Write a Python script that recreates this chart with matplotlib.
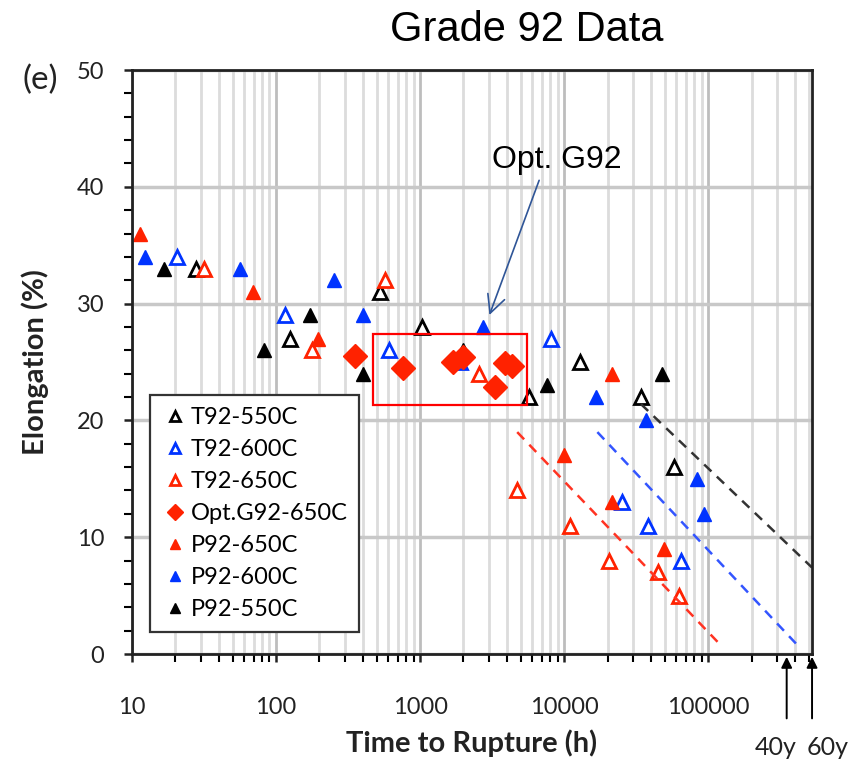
import matplotlib
matplotlib.use('Agg')
import matplotlib.pyplot as plt
import numpy as np
from matplotlib.ticker import LogLocator, FixedLocator, MultipleLocator, NullFormatter

# data: (time to rupture h, elongation %)
t92_550_t = [28, 124, 523, 1030, 5700, 12800, 34100, 57400]
t92_550_e = [33, 27, 31, 28, 22, 25, 22, 16]
t92_600_t = [20.4, 116, 612, 1880, 8070, 25200, 38100, 64300]
t92_600_e = [34, 29, 26, 25, 27, 13, 11, 8]
t92_650_t = [31.8, 178, 566, 2580, 4720, 10900, 20600, 44600, 63000]
t92_650_e = [33, 26, 32, 24, 14, 11, 8, 7, 5]
opt_t = [352, 764, 1690, 2000, 3330, 3900, 4360]
opt_e = [25.5, 24.5, 25.0, 25.4, 22.9, 24.9, 24.7]
p92_650_t = [11.3, 69, 196, 9930, 21500, 21500, 49000]
p92_650_e = [36, 31, 27, 17, 24, 13, 9]
p92_600_t = [12.3, 56, 252, 399, 2710, 16700, 36900, 84000, 94000]
p92_600_e = [34, 33, 32, 29, 28, 22, 20, 15, 12]
p92_550_t = [16.6, 83, 172, 400, 2000, 7590, 47500]
p92_550_e = [33, 26, 29, 24, 26, 23, 24]

# trend lines (dashed)
trend_black = ([34100, 525600], [21.4, 7.4])
trend_blue = ([17000, 428000], [19.0, 0.6])
trend_red = ([4720, 119000], [19.0, 0.9])

# highlighted box
box_t = [468, 5520]
box_e = [21.3, 27.4]

life_t = [350400, 525600]
life_lab = ['40y', '60y']

RED = '#ff2200'
BLUE = '#0033ff'

plt.rcParams['font.family'] = ['Lato', 'DejaVu Sans']

fig = plt.figure(figsize=(8.48, 7.61), dpi=100)
ax = fig.add_axes([0.1557, 0.1406, 0.8019, 0.7674])

ax.set_xscale('log')
ax.set_xlim(10, 525600)
ax.set_ylim(0, 50)

ax.xaxis.set_major_locator(FixedLocator([10, 100, 1000, 10000, 100000]))
ax.xaxis.set_minor_locator(LogLocator(base=10, subs=np.arange(2, 10), numticks=20))
ax.xaxis.set_minor_formatter(NullFormatter())
ax.set_xticklabels(['10', '100', '1000', '10000', '100000'])
ax.yaxis.set_major_locator(MultipleLocator(10))
ax.yaxis.set_minor_locator(MultipleLocator(2))

ax.grid(which='minor', axis='x', color='#dcdcdc', lw=2.0, zorder=0)
ax.grid(which='major', axis='x', color='#bdbdbd', lw=2.0, zorder=0)
ax.grid(which='major', axis='y', color='#c8c8c8', lw=2.5, zorder=0)
ax.set_axisbelow(True)

ax.tick_params(which='major', direction='out', length=6, width=1.8, labelsize=17, colors='#222222')
ax.tick_params(which='minor', direction='out', length=6, width=1.5)
ax.tick_params(axis='x', which='major', pad=25)
ax.tick_params(axis='y', which='major', pad=14)
for s in ax.spines.values():
    s.set_linewidth(2.0)
    s.set_color('#222222')

ms = 10
ax.plot(t92_550_t, t92_550_e, '^', ls='none', mfc='white', mec='black', mew=2, ms=ms, label='T92-550C')
ax.plot(t92_600_t, t92_600_e, '^', ls='none', mfc='white', mec=BLUE, mew=2, ms=ms, label='T92-600C')
ax.plot(t92_650_t, t92_650_e, '^', ls='none', mfc='white', mec=RED, mew=2, ms=ms, label='T92-650C')
ax.plot(opt_t, opt_e, 'D', ls='none', color=RED, ms=12, label='Opt.G92-650C', zorder=4)
ax.plot(p92_650_t, p92_650_e, '^', ls='none', color=RED, ms=ms, label='P92-650C')
ax.plot(p92_600_t, p92_600_e, '^', ls='none', color=BLUE, ms=ms, label='P92-600C')
ax.plot(p92_550_t, p92_550_e, '^', ls='none', color='black', ms=ms, label='P92-550C')

ax.plot(*trend_black, ls=(0, (4, 3)), color='#333333', lw=1.8)
ax.plot(*trend_blue, ls=(0, (4, 3)), color='#3355ff', lw=1.8)
ax.plot(*trend_red, ls=(0, (4, 3)), color='#ff3322', lw=1.8)

ax.add_patch(plt.Rectangle((box_t[0], box_e[0]), box_t[1] - box_t[0], box_e[1] - box_e[0],
                           fill=False, ec='red', lw=1.6, zorder=5))

ax.annotate('Opt. G92', xy=(2980, 28.8), xytext=(8870, 42.3),
            ha='center', va='center', fontsize=23, family='Liberation Sans',
            arrowprops=dict(arrowstyle='->', color='#2f5597', lw=1.2, mutation_scale=32,
                            relpos=(0.38, 0.0)))

leg = ax.legend(loc='upper left', bbox_to_anchor=(0.027, 0.4435), borderaxespad=0, fontsize=17,
                frameon=True, fancybox=False, edgecolor='#333333', framealpha=1,
                handletextpad=0.1, handlelength=1.1, markerscale=0.7,
                labelspacing=0.47, borderpad=0.5)
leg.get_frame().set_linewidth(1.6)

offs = [(-8, -2), (11, -2)]
for tt, lab, off in zip(life_t, life_lab, offs):
    ax.annotate('', xy=(tt, 0), xycoords=('data', 'axes fraction'),
                xytext=(tt, -0.115), textcoords=('data', 'axes fraction'),
                arrowprops=dict(arrowstyle='-|>', color='black', lw=1.4, mutation_scale=16),
                annotation_clip=False)
    ax.annotate(lab, xy=(tt, -0.155), xycoords=('data', 'axes fraction'),
                xytext=off, textcoords='offset points', ha='center', va='center',
                fontsize=18, color='#222222', annotation_clip=False)

ax.set_xlabel('Time to Rupture (h)', fontsize=21, fontweight='bold', labelpad=8, color='#222222')
ax.set_ylabel('Elongation (%)', fontsize=21, fontweight='bold', labelpad=20, color='#222222')

fig.text(0.621, 0.96, 'Grade 92 Data', ha='center', va='center', fontsize=30, family='Liberation Sans')
fig.text(0.047, 0.895, '(e)', ha='center', va='center', fontsize=24, color='#222222')

fig.savefig('out.png', dpi=100)
